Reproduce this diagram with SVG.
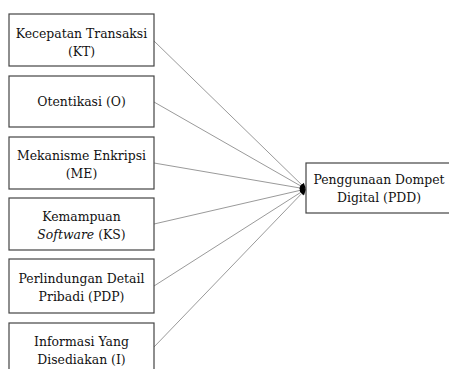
<svg xmlns="http://www.w3.org/2000/svg" width="449" height="369" viewBox="0 0 449 369">
<style>
.box{fill:#fff;stroke:#444;stroke-width:1.2}
text{font-family:'DejaVu Serif Condensed',serif;font-stretch:condensed;font-size:13.8px;fill:#111;text-anchor:middle}
.c{stroke:#9a9a9a;stroke-width:1;fill:none;marker-end:url(#ah)}
</style>
<defs>
<marker id="ah" viewBox="0 0 10 10" refX="10" refY="5" markerWidth="8" markerHeight="6" markerUnits="userSpaceOnUse" orient="auto">
<path d="M0,0 L10,5 L0,10 z" fill="#000"/>
</marker>
</defs>
<rect width="449" height="369" fill="#fff"/>
<g id="connectors">
<line class="c" x1="154" y1="41" x2="306" y2="189"/>
<line class="c" x1="154" y1="102" x2="306" y2="189"/>
<line class="c" x1="154" y1="163" x2="306" y2="189"/>
<line class="c" x1="154" y1="224" x2="306" y2="189"/>
<line class="c" x1="154" y1="286" x2="306" y2="189"/>
<line class="c" x1="154" y1="347" x2="306" y2="189"/>
</g>
<g id="KT">
<rect class="box" x="9" y="14" width="145" height="52"/>
<text x="81.5" y="37.5">Kecepatan Transaksi</text>
<text x="81.5" y="55.5">(KT)</text>
</g>
<g id="O">
<rect class="box" x="9" y="76" width="145" height="51"/>
<text x="81.5" y="106">Otentikasi (O)</text>
</g>
<g id="ME">
<rect class="box" x="9" y="137" width="145" height="52"/>
<text x="81.5" y="160">Mekanisme Enkripsi</text>
<text x="81.5" y="178">(ME)</text>
</g>
<g id="KS">
<rect class="box" x="9" y="198" width="145" height="52"/>
<text x="81.5" y="221">Kemampuan</text>
<text x="81.5" y="239"><tspan font-style="italic">Software</tspan> (KS)</text>
</g>
<g id="PDP">
<rect class="box" x="9" y="259" width="145" height="54"/>
<text x="81.5" y="283">Perlindungan Detail</text>
<text x="81.5" y="301">Pribadi (PDP)</text>
</g>
<g id="I">
<rect class="box" x="9" y="323" width="145" height="56"/>
<text x="81.5" y="346">Informasi Yang</text>
<text x="81.5" y="364">Disediakan (I)</text>
</g>
<g id="PDD">
<rect class="box" x="306" y="163" width="160" height="50"/>
<text x="379" y="184">Penggunaan Dompet</text>
<text x="379" y="202">Digital (PDD)</text>
</g>
</svg>
